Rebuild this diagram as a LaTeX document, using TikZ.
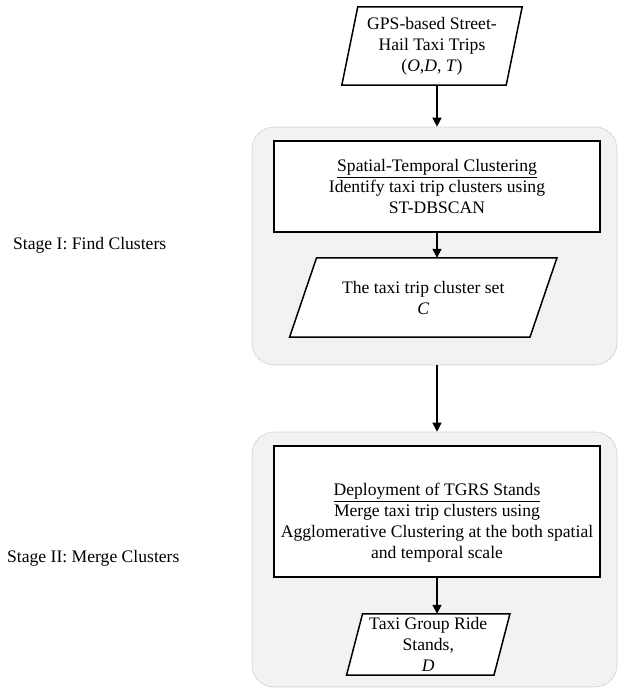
\documentclass[tikz,border=0pt]{standalone}
\usepackage{fontspec}
\setmainfont{Liberation Serif}
\usetikzlibrary{arrows.meta,backgrounds}
\newcommand\drawpara[2]{\filldraw[parabox] ([xshift=#2]#1.north west) -- ([xshift=#2]#1.north east) -- ([xshift=-#2]#1.south east) -- ([xshift=-#2]#1.south west) -- cycle;}
\begin{document}
\begin{tikzpicture}[x=1pt,y=-1pt,
  font=\fontsize{17.6}{21}\selectfont,
  procbox/.style={draw, line width=1.5pt, fill=white, align=center, inner sep=0pt},
  paratext/.style={align=center, inner sep=0pt},
  parabox/.style={draw, line width=1.5pt, fill=white},
  groupbox/.style={draw=black!30, dash pattern=on 1pt off 1pt, line width=0.6pt, fill=black!5, rounded corners=22pt, inner sep=0pt},
  arr/.style={line width=1.3pt, -{Triangle[length=9pt,width=9pt]}},
  stagelabel/.style={anchor=west, inner sep=0pt}]
\useasboundingbox (0,0) rectangle (618,688);
\node[paratext, minimum width=164pt, minimum height=78pt] (p0) at (432,46) {GPS-based Street-\\Hail Taxi Trips\\(\textit{O},\textit{D}, \textit{T})};
\node[procbox, minimum width=326pt, minimum height=91pt] (in1) at (437,186.5) {\underline{Spatial-Temporal Clustering}\\Identify taxi trip clusters using\\ST-DBSCAN};
\node[paratext, minimum width=240pt, minimum height=79pt] (p1) at (423.25,297.5) {The taxi trip cluster set\\\textit{C}};
\node[procbox, minimum width=326pt, minimum height=131pt] (in2) at (437,511.5) {\strut\\\underline{Deployment of TGRS Stands}\\Merge taxi trip clusters using\\Agglomerative Clustering at the both spatial\\and temporal scale};
\node[paratext, minimum width=147pt, minimum height=61pt] (p2) at (428.25,644.5) {Taxi Group Ride\\Stands,\\\textit{D}};
\node[stagelabel] (s1) at (13,245) {Stage I: Find Clusters};
\node[stagelabel] (s2) at (7,558) {Stage II: Merge Clusters};
\begin{scope}[on background layer]
\node[groupbox, minimum width=365pt, minimum height=238pt] (g1) at (434.5,246) {};
\node[groupbox, minimum width=365pt, minimum height=255pt] (g2) at (434.5,559.5) {};
\drawpara{p0}{8pt}
\drawpara{p1}{13.5pt}
\drawpara{p2}{8pt}
\end{scope}
\draw[arr] (p0.south -| in1.north) -- (g1.north -| in1.north);
\draw[arr] (in1.south) -- (in1.south |- p1.north);
\draw[arr] (g1.south -| in1.north) -- (g2.north -| in1.north);
\draw[arr] (in2.south) -- (in2.south |- p2.north);
\end{tikzpicture}
\end{document}
